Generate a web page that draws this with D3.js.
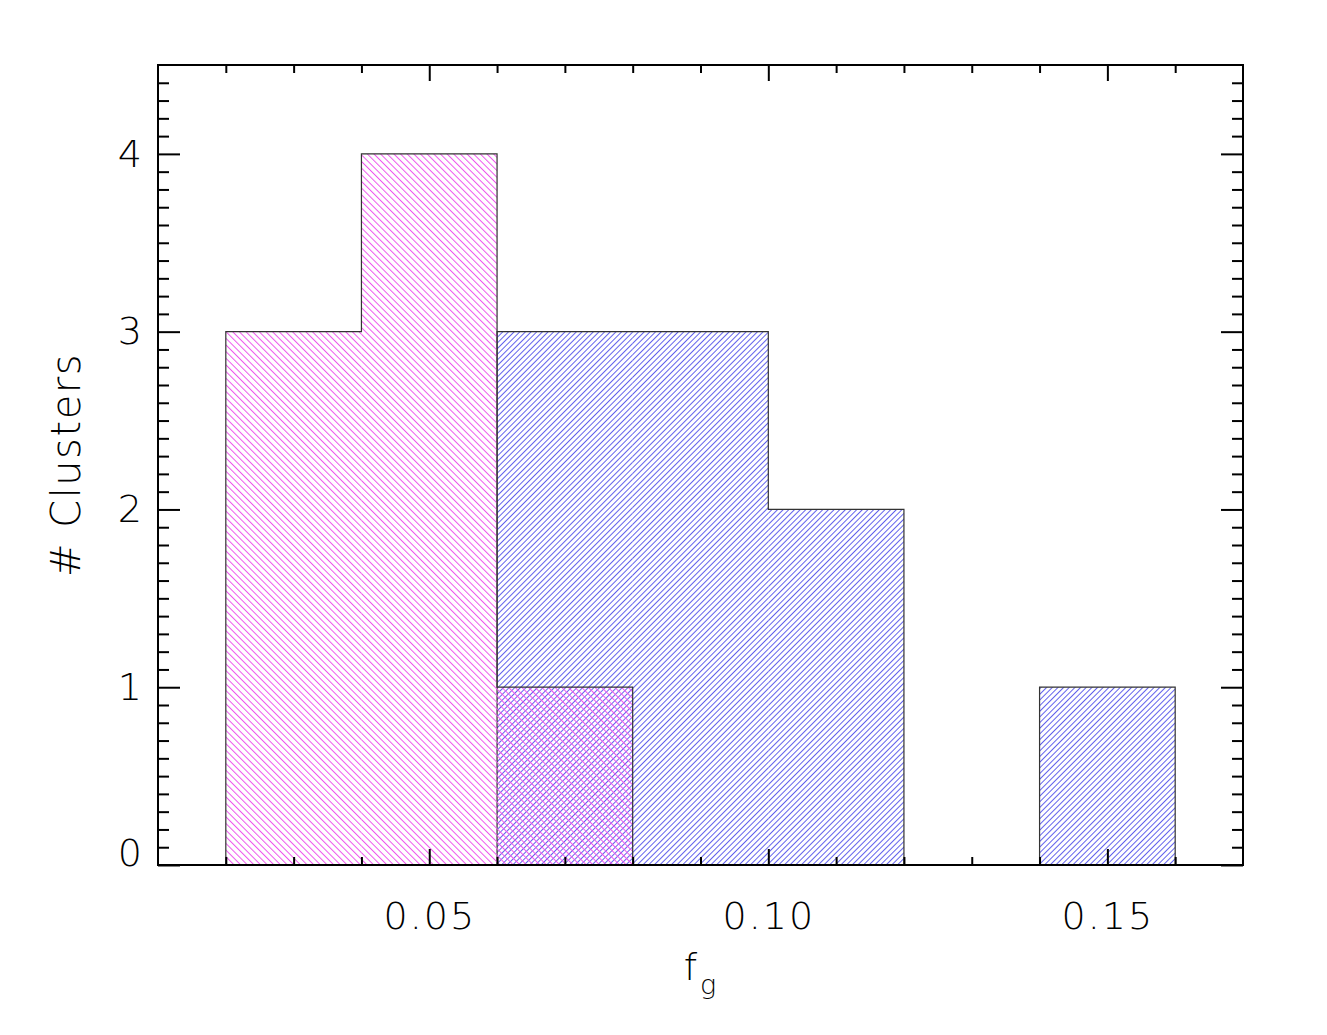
<!DOCTYPE html>
<html>
<head>
<meta charset="utf-8">
<script src="https://cdn.jsdelivr.net/npm/d3@7"></script>
<style>
  body { margin: 0; background: #fff; }
  text { font-family: "DejaVu Sans", sans-serif; font-weight: 200; fill: #000; }
</style>
</head>
<body>
<div id="chart"></div>
<script>
// histogram bins (left edges) and counts
const binWidth = 0.02;
const pinkEdges = [0.02, 0.04, 0.06];
const pinkCounts = [3, 4, 1];
const blueEdges = [0.06, 0.08, 0.10, 0.12, 0.14];
const blueCounts = [3, 3, 2, 0, 1];

const xMajor = [0.05, 0.10, 0.15];
const xMinor = [0.02, 0.03, 0.04, 0.06, 0.07, 0.08, 0.09, 0.11, 0.12, 0.13, 0.14, 0.16];
const yMajor = [0, 1, 2, 3, 4];
const yMinor = d3.range(1, 45).map((d) => d / 10).filter((d) => d % 1 !== 0);

const width = 1327;
const height = 1035;
const margin = { top: 65, right: 84, bottom: 170, left: 158 };
const innerW = width - margin.left - margin.right;
const innerH = height - margin.top - margin.bottom;

const x = d3.scaleLinear().domain([0.01, 0.17]).range([0, innerW]);
const y = d3.scaleLinear().domain([0, 4.5]).range([innerH, 0]);

const svg = d3
  .select("#chart")
  .append("svg")
  .attr("width", width)
  .attr("height", height);

// hatch patterns
const defs = svg.append("defs");
function hatch(id, color, angle, gap) {
  const p = defs
    .append("pattern")
    .attr("id", id)
    .attr("patternUnits", "userSpaceOnUse")
    .attr("width", gap)
    .attr("height", 10)
    .attr("patternTransform", `rotate(${angle})`);
  p.append("rect")
    .attr("x", 0)
    .attr("y", 0)
    .attr("width", 1)
    .attr("height", 10)
    .attr("fill", color);
}
hatch("pinkHatch", "#ee55ee", -45, 4.7);
hatch("blueHatch", "#6262ec", 45, 4.0);

const g = svg
  .append("g")
  .attr("transform", `translate(${margin.left},${margin.top})`);

function drawSeries(edges, counts, pattern) {
  const bins = edges.map((e, i) => ({ x0: e, x1: e + binWidth, n: counts[i] }));
  g.append("g")
    .selectAll("rect")
    .data(bins.filter((d) => d.n > 0))
    .join("rect")
    .attr("x", (d) => x(d.x0))
    .attr("y", (d) => y(d.n))
    .attr("width", (d) => x(d.x1) - x(d.x0))
    .attr("height", (d) => y(0) - y(d.n))
    .attr("fill", `url(#${pattern})`);

  const pts = [[bins[0].x0, 0]];
  bins.forEach((d) => {
    pts.push([d.x0, d.n]);
    pts.push([d.x1, d.n]);
  });
  pts.push([bins[bins.length - 1].x1, 0]);
  g.append("path")
    .attr("d", d3.line().x((d) => x(d[0])).y((d) => y(d[1]))(pts))
    .attr("fill", "none")
    .attr("stroke", "#333")
    .attr("stroke-width", 1.2);
}

drawSeries(blueEdges, blueCounts, "blueHatch");
drawSeries(pinkEdges, pinkCounts, "pinkHatch");

// axes (ticks inward on all four sides)
function styleAxis(sel) {
  sel.select(".domain").remove();
  sel.selectAll(".tick line").attr("stroke", "#000").attr("stroke-width", 2);
  sel.selectAll("text").style("font-size", "38px").attr("fill", "#000");
}

g.append("g")
  .attr("transform", `translate(0,${innerH})`)
  .call(d3.axisBottom(x).tickValues(xMinor).tickSize(-8).tickFormat(""))
  .call(styleAxis);
g.append("g")
  .attr("transform", `translate(0,${innerH})`)
  .call(
    d3.axisBottom(x).tickValues(xMajor).tickSize(-16).tickPadding(37)
      .tickFormat(d3.format(".2f"))
  )
  .call(styleAxis)
  .selectAll("text")
  .style("letter-spacing", "2px");
g.append("g")
  .call(d3.axisTop(x).tickValues(xMinor).tickSize(-8).tickFormat(""))
  .call(styleAxis);
g.append("g")
  .call(d3.axisTop(x).tickValues(xMajor).tickSize(-16).tickFormat(""))
  .call(styleAxis);

g.append("g")
  .call(d3.axisLeft(y).tickValues(yMinor).tickSize(-11).tickFormat(""))
  .call(styleAxis);
const yAx = g
  .append("g")
  .call(d3.axisLeft(y).tickValues(yMajor).tickSize(-22).tickPadding(16).tickFormat(d3.format("d")))
  .call(styleAxis);
yAx.selectAll(".tick text").filter((d) => d === 0).attr("dy", "0em");
g.append("g")
  .attr("transform", `translate(${innerW},0)`)
  .call(d3.axisRight(y).tickValues(yMinor).tickSize(-11).tickFormat(""))
  .call(styleAxis);
g.append("g")
  .attr("transform", `translate(${innerW},0)`)
  .call(d3.axisRight(y).tickValues(yMajor).tickSize(-22).tickFormat(""))
  .call(styleAxis);

// frame
g.append("rect")
  .attr("width", innerW)
  .attr("height", innerH)
  .attr("fill", "none")
  .attr("stroke", "#000")
  .attr("stroke-width", 2);

// axis titles
const xt = svg
  .append("text")
  .attr("x", 700)
  .attr("y", 980)
  .attr("text-anchor", "middle")
  .style("font-size", "38px");
xt.append("tspan").text("f");
xt.append("tspan").attr("dy", 14).attr("dx", 3).style("font-size", "27px").text("g");

svg
  .append("text")
  .attr("transform", "translate(80,465) rotate(-90)")
  .attr("text-anchor", "middle")
  .style("font-size", "40px")
  .style("letter-spacing", "1.5px")
  .text("# Clusters");
</script>
</body>
</html>
